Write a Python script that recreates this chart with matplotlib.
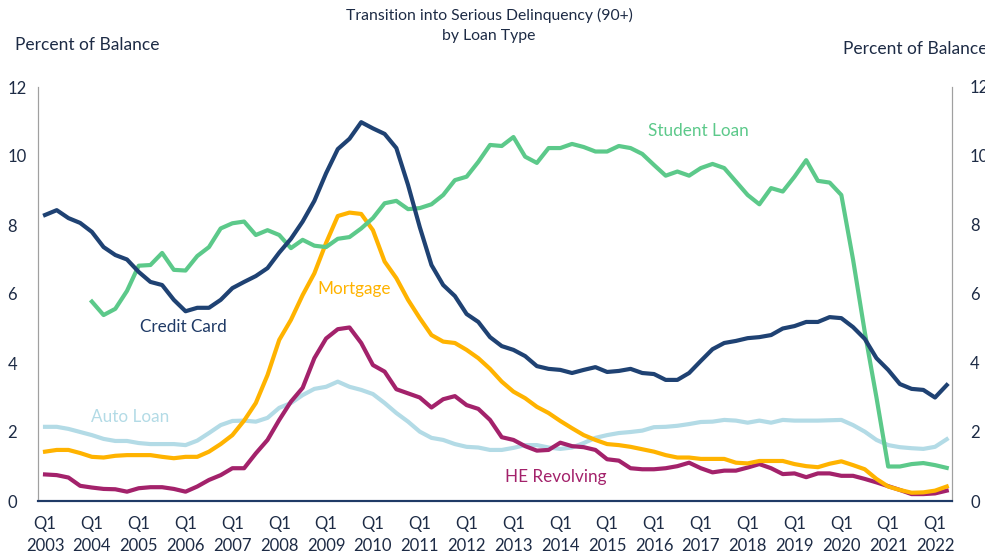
import numpy as np
import matplotlib
matplotlib.use("Agg")
import matplotlib.pyplot as plt

# quarterly, 2003 Q1 .. 2022 Q2
years = list(range(2003, 2023))
n_q = 78

credit_card = [8.29, 8.43, 8.2, 8.06, 7.8, 7.36, 7.13, 7.0, 6.64, 6.35,
               6.26, 5.83, 5.5, 5.6, 5.6, 5.83, 6.17, 6.35, 6.52, 6.75,
               7.2, 7.6, 8.1, 8.7, 9.5, 10.2, 10.5, 10.98, 10.8, 10.64,
               10.23, 9.16, 7.94, 6.84, 6.26, 5.94, 5.42, 5.19, 4.75, 4.49,
               4.38, 4.2, 3.91, 3.83, 3.8, 3.71, 3.8, 3.88, 3.74, 3.77,
               3.83, 3.71, 3.68, 3.51, 3.51, 3.71, 4.06, 4.4, 4.58, 4.64,
               4.72, 4.75, 4.81, 5.0, 5.07, 5.19, 5.19, 5.33, 5.3, 5.04,
               4.7, 4.14, 3.8, 3.39, 3.25, 3.22, 3.0, 3.36]

student_loan = [np.nan, np.nan, np.nan, np.nan, 5.78, 5.39, 5.57, 6.09, 6.82, 6.84,
                7.19, 6.7, 6.68, 7.1, 7.36, 7.9, 8.05, 8.1, 7.71, 7.85,
                7.71, 7.33, 7.57, 7.4, 7.36, 7.6, 7.65, 7.9, 8.2, 8.63,
                8.7, 8.46, 8.49, 8.6, 8.87, 9.3, 9.4, 9.83, 10.32, 10.29,
                10.55, 9.98, 9.8, 10.23, 10.23, 10.35, 10.26, 10.13, 10.13, 10.29,
                10.23, 10.06, 9.74, 9.43, 9.55, 9.43, 9.65, 9.77, 9.65, 9.26,
                8.87, 8.6, 9.07, 8.97, 9.4, 9.88, 9.28, 9.23, 8.87, 7.0,
                4.9, 3.0, 1.0, 1.0, 1.07, 1.1, 1.04, 0.96]

mortgage = [1.43, 1.48, 1.48, 1.39, 1.28, 1.26, 1.31, 1.33, 1.33, 1.33,
            1.28, 1.24, 1.28, 1.28, 1.43, 1.65, 1.91, 2.33, 2.84, 3.65,
            4.67, 5.25, 5.97, 6.6, 7.48, 8.26, 8.36, 8.32, 7.85, 6.94,
            6.46, 5.83, 5.3, 4.81, 4.62, 4.58, 4.38, 4.14, 3.83, 3.46,
            3.17, 2.98, 2.73, 2.55, 2.32, 2.11, 1.91, 1.77, 1.65, 1.62,
            1.57, 1.5, 1.43, 1.33, 1.26, 1.26, 1.22, 1.22, 1.22, 1.11,
            1.09, 1.16, 1.16, 1.16, 1.07, 1.01, 0.98, 1.08, 1.15, 1.04,
            0.92, 0.64, 0.42, 0.32, 0.24, 0.25, 0.3, 0.42]

auto_loan = [2.15, 2.15, 2.09, 2.0, 1.91, 1.8, 1.74, 1.74, 1.68, 1.65,
             1.65, 1.65, 1.62, 1.75, 1.97, 2.2, 2.32, 2.33, 2.3, 2.41,
             2.7, 2.84, 3.07, 3.25, 3.31, 3.46, 3.31, 3.22, 3.1, 2.84,
             2.55, 2.3, 2.01, 1.83, 1.77, 1.65, 1.57, 1.55, 1.48, 1.48,
             1.54, 1.62, 1.62, 1.55, 1.51, 1.55, 1.68, 1.83, 1.91, 1.97,
             2.0, 2.04, 2.14, 2.15, 2.18, 2.23, 2.29, 2.3, 2.35, 2.33,
             2.27, 2.33, 2.27, 2.35, 2.33, 2.33, 2.33, 2.34, 2.35, 2.2,
             2.01, 1.77, 1.62, 1.56, 1.53, 1.51, 1.57, 1.79]

he_revolving = [0.77, 0.75, 0.68, 0.44, 0.39, 0.35, 0.34, 0.27, 0.37, 0.4,
                0.4, 0.35, 0.27, 0.42, 0.61, 0.75, 0.95, 0.95, 1.38, 1.77,
                2.35, 2.88, 3.28, 4.14, 4.71, 4.98, 5.03, 4.58, 3.94, 3.75,
                3.24, 3.12, 3.0, 2.71, 2.95, 3.04, 2.78, 2.67, 2.35, 1.85,
                1.77, 1.59, 1.46, 1.48, 1.69, 1.59, 1.56, 1.48, 1.21, 1.17,
                0.95, 0.92, 0.92, 0.95, 1.01, 1.11, 0.95, 0.83, 0.88, 0.88,
                0.97, 1.07, 0.95, 0.78, 0.8, 0.69, 0.8, 0.8, 0.73, 0.73,
                0.64, 0.54, 0.43, 0.32, 0.2, 0.2, 0.22, 0.3]

x = np.arange(n_q)
text_col = '#1d2b45'
plt.rcParams['font.family'] = ['Lato', 'DejaVu Sans']

fig = plt.figure(figsize=(9.85, 5.54), dpi=100)
ax = fig.add_axes([38/985, 1 - 501/554, (952 - 38)/985, (501 - 87)/554])

lw = 3.0
ax.plot(x, auto_loan, color='#b3dbe6', lw=lw, solid_joinstyle='round')
ax.plot(x, he_revolving, color='#a3226b', lw=lw, solid_joinstyle='round')
ax.plot(x, mortgage, color='#ffb300', lw=lw, solid_joinstyle='round')
ax.plot(x, student_loan, color='#5cc98a', lw=lw, solid_joinstyle='round')
ax.plot(x, credit_card, color='#1f4273', lw=lw, solid_joinstyle='round')

# series labels
fs_lab = 12.3
ax.text(11.8, 5.04, 'Credit Card', color='#1f3a66', fontsize=fs_lab, ha='center', va='center')
ax.text(26.4, 6.14, 'Mortgage', color='#ffb300', fontsize=fs_lab, ha='center', va='center')
ax.text(55.8, 10.72, 'Student Loan', color='#5cc98a', fontsize=fs_lab, ha='center', va='center')
ax.text(7.3, 2.44, 'Auto Loan', color='#b3dbe6', fontsize=fs_lab, ha='center', va='center')
ax.text(43.6, 0.71, 'HE Revolving', color='#a3226b', fontsize=fs_lab, ha='center', va='center')

ax.set_xlim(-0.6, 77.45)
ax.set_ylim(0, 12)
ax.set_xticks(x[::4])
ax.set_xticklabels([f'Q1\n{y}' for y in years[:len(x[::4])]], fontsize=12, color=text_col,
                   linespacing=1.45)
ax.set_yticks(range(0, 13, 2))
ax.tick_params(axis='x', length=0, pad=11)
ax.tick_params(axis='y', length=0, pad=22, labelsize=12, labelcolor=text_col)
for lab in ax.get_yticklabels():
    lab.set_horizontalalignment('left')

ax2 = ax.twinx()
ax2.set_ylim(0, 12)
ax2.set_yticks(range(0, 13, 2))
ax2.tick_params(axis='y', length=0, pad=13, labelsize=12, labelcolor=text_col)

for a in (ax, ax2):
    a.spines['top'].set_visible(False)
    a.spines['left'].set_color('#a0a0a0')
    a.spines['right'].set_color('#a0a0a0')
    a.spines['bottom'].set_color('#1f3a66')
    a.spines['bottom'].set_linewidth(1.5)

fig.text(489/985, 1 - 15/554, 'Transition into Serious Delinquency (90+)', ha='center', va='center',
         fontsize=11.3, color=text_col)
fig.text(489/985, 1 - 36/554, 'by Loan Type', ha='center', va='center', fontsize=11.3, color=text_col)
fig.text(15/985, 1 - 45/554, 'Percent of Balance', ha='left', va='center', fontsize=12.5, color=text_col)
fig.text(843/985, 1 - 49/554, 'Percent of Balance', ha='left', va='center', fontsize=12.5, color=text_col)

fig.savefig('out.png', dpi=100)
